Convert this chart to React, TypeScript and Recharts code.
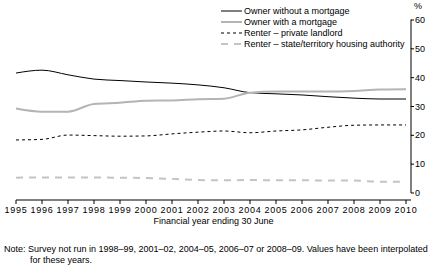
import { LineChart, Line, XAxis, YAxis, Legend } from "recharts";

const years = ["1995", "1996", "1997", "1998", "1999", "2000", "2001", "2002", "2003", "2004", "2005", "2006", "2007", "2008", "2009", "2010"];
const ownerNoMortgage = [41.6, 42.6, 41.0, 39.5, 39.0, 38.5, 38.1, 37.5, 36.5, 34.8, 34.4, 34.0, 33.4, 32.9, 32.6, 32.6];
const ownerMortgage = [29.3, 28.2, 28.2, 30.9, 31.3, 32.0, 32.1, 32.5, 32.7, 34.8, 35.2, 35.2, 35.2, 35.4, 35.9, 36.0];
const renterPrivate = [18.4, 18.6, 20.1, 19.9, 19.7, 19.8, 20.5, 21.1, 21.5, 20.9, 21.5, 21.9, 22.8, 23.5, 23.6, 23.6];
const renterPublic = [5.3, 5.4, 5.4, 5.4, 5.3, 5.2, 4.9, 4.5, 4.4, 4.5, 4.4, 4.4, 4.3, 4.3, 3.9, 3.9];
const yTicks = [0, 10, 20, 30, 40, 50, 60];

const FONT = '"Liberation Sans", Arial, sans-serif';

const series = [
  { key: "noMortgage", name: "Owner without a mortgage", color: "#000000", width: 1, dash: undefined },
  { key: "mortgage", name: "Owner with a mortgage", color: "#b4b4b4", width: 2, dash: undefined },
  { key: "private", name: "Renter \u2013 private landlord", color: "#000000", width: 1, dash: "3 3" },
  { key: "public", name: "Renter \u2013 state/territory housing authority", color: "#c4c4c4", width: 2, dash: "7 6" },
];

const data = years.map((year, i) => ({
  year,
  noMortgage: ownerNoMortgage[i],
  mortgage: ownerMortgage[i],
  private: renterPrivate[i],
  public: renterPublic[i],
}));

// distance between y ticks, used to draw the axis line in pieces
const TICK_STEP = 173 / 6;

function YTick(props: any) {
  const { x, y, payload } = props;
  return (
    <g>
      <line x1={x} y1={y} x2={x + 3} y2={y} stroke="#000" />
      {payload.value > 0 && <line x1={x} y1={y - 0.5} x2={x} y2={y + TICK_STEP} stroke="#000" />}
      <text x={x + 4} y={y} dy="0.35em" fontSize={9} fontFamily={FONT} fill="#000">
        {payload.value}
      </text>
    </g>
  );
}

function ChartLegend() {
  return (
    <div style={{ fontFamily: FONT, fontSize: 9, color: "#000" }}>
      {series.map((s) => (
        <div key={s.key} style={{ display: "flex", alignItems: "center", height: 11, whiteSpace: "nowrap" }}>
          <svg width={22} height={6} style={{ marginRight: 1 }}>
            <line x1={0} y1={3} x2={21} y2={3} stroke={s.color} strokeWidth={s.width} strokeDasharray={s.dash} />
          </svg>
          <span>{s.name}</span>
        </div>
      ))}
    </div>
  );
}

export default function App() {
  return (
    <div style={{ position: "absolute", left: 0, top: 0, width: 435, height: 265, background: "#fff", fontFamily: FONT }}>
      <LineChart width={435} height={265} data={data} margin={{ top: 20, right: 0, left: 16, bottom: 35 }}>
        <XAxis
          dataKey="year"
          height={30}
          padding={{ left: 0, right: 5 }}
          interval={0}
          stroke="#000"
          tickSize={4}
          tickMargin={3}
          tick={{ fontSize: 9, fill: "#000", fontFamily: FONT, letterSpacing: 0.8 }}
          label={{ value: "Financial year ending 30 June", position: "bottom", offset: -12, fontSize: 9, fill: "#000", fontFamily: FONT }}
        />
        <YAxis
          orientation="right"
          width={24}
          domain={[0, 60]}
          ticks={yTicks}
          padding={{ top: 0, bottom: 7 }}
          axisLine={false}
          tickLine={false}
          tickSize={0}
          tickMargin={0}
          tick={<YTick />}
          interval={0}
        />
        <Legend
          layout="vertical"
          align="center"
          verticalAlign="middle"
          wrapperStyle={{ top: 5, left: 221, width: 200 }}
          content={() => <ChartLegend />}
        />
        {series.map((s) => (
          <Line
            key={s.key}
            type="monotone"
            dataKey={s.key}
            name={s.name}
            stroke={s.color}
            strokeWidth={s.width}
            strokeDasharray={s.dash}
            dot={false}
            activeDot={false}
            isAnimationActive={false}
          />
        ))}
      </LineChart>
      <div style={{ position: "absolute", left: 414, top: 1, fontSize: 9, color: "#000" }}>%</div>
      <div style={{ position: "absolute", left: 4, top: 244, fontSize: 9, lineHeight: "11px", color: "#000", whiteSpace: "nowrap" }}>
        <div>Note: Survey not run in 1998–99, 2001–02, 2004–05, 2006–07 or 2008–09. Values have been interpolated</div>
        <div style={{ paddingLeft: 26 }}>for these years.</div>
      </div>
    </div>
  );
}
